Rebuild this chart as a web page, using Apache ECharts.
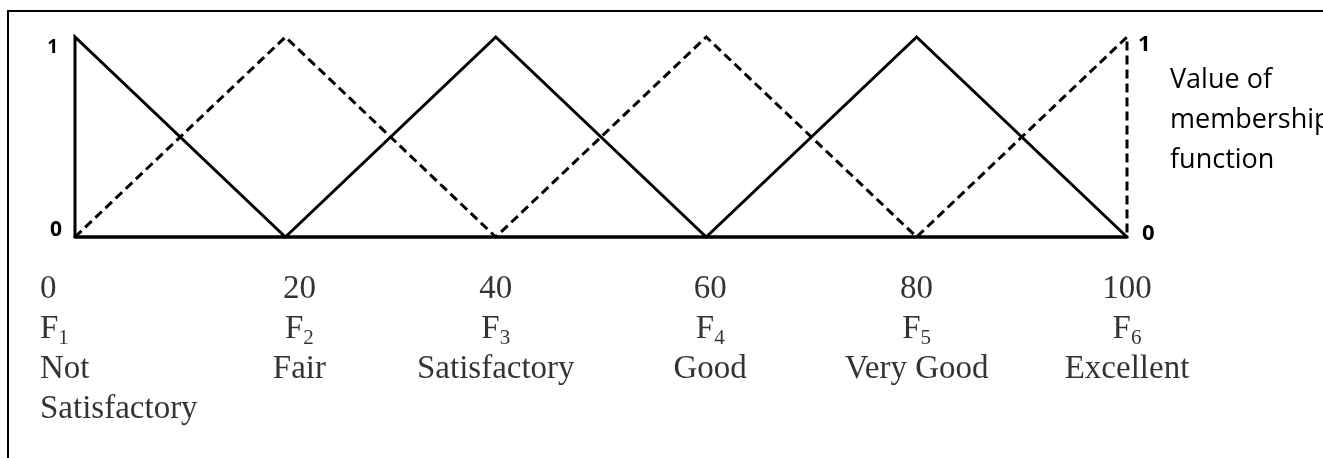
<html>
<head>
    <meta http-equiv="Content-Type" content="text/html; charset=utf-8" />
    <title>Membership functions</title>
    <style type="text/css">
        * {
            margin: 0;
            padding: 0
        }

        html,
        body {
            width: 100%;
            height: 100%;
            background: #fff;
            overflow: hidden;
        }

        #chart {
            position: absolute;
            left: 0;
            top: 0;
            width: 1323px;
            height: 458px;
        }

        /* box line round the figure, open on the right and bottom */
        .frame {
            position: absolute;
            left: 7px;
            top: 10px;
            right: 0;
            bottom: 0;
            border-top: 2px solid #000;
            border-left: 2px solid #000;
            pointer-events: none;
        }
    </style>
</head>

<body>
    <div id="chart"></div>
    <div class="frame"></div>
    <script src="https://cdn.jsdelivr.net/npm/echarts@6/dist/echarts.min.js"></script>
    <script>
        // scale ticks and the three label rows under them
        const xTicks = [0, 20, 40, 60, 80, 100];
        const setNames = ['1', '2', '3', '4', '5', '6'];
        const gradeNames = [['Not', 'Satisfactory'], ['Fair'], ['Satisfactory'], ['Good'], ['Very Good'], ['Excellent']];

        // F1, F3, F5 (solid) and F2, F4, F6 (dashed) traced as one polyline each
        const solidX = [0, 0, 20, 40, 60, 80, 100];
        const solidY = [0, 1, 0, 1, 0, 1, 0];
        const dashedX = [0, 20, 40, 60, 80, 100, 100];
        const dashedY = [0, 1, 0, 1, 0, 1, 0];

        const axisTitle = 'Value of\nmembership\nfunction';

        const serif = "'Liberation Serif', 'Times New Roman', serif";
        const sans = "'Open Sans', 'Liberation Sans', sans-serif";

        // small nudges so the labels sit where the original has them
        const labelShift = [-35, 14, 0, 4, 0, 0];

        const toPairs = (xs, ys) => xs.map((x, i) => [x, ys[i]]);

        const labelText = (i) => {
            const rows = [
                '{n|' + xTicks[i] + '}',
                '{f|F}{s|' + setNames[i] + '}'
            ];
            gradeNames[i].forEach(t => rows.push('{t|' + t + '}'));
            return rows.join('\n');
        };

        const tickLabels = xTicks.map((x, i) => ({
            value: [x, 0],
            label: i === 0
                ? { align: 'left', offset: [labelShift[i], 0] }
                : { offset: [labelShift[i], 0] }
        }));

        const myChart = echarts.init(document.querySelector('#chart'), null, { renderer: 'canvas' });
        const option = {
            animation: false,
            backgroundColor: 'transparent',
            title: {
                text: axisTitle,
                left: 1170,
                top: 60,
                padding: 0,
                textStyle: {
                    fontFamily: sans,
                    fontWeight: 'normal',
                    fontSize: 27,
                    lineHeight: 40,
                    color: '#000'
                }
            },
            grid: { left: 75, right: 196, top: 37, bottom: 221, containLabel: false },
            xAxis: {
                type: 'value',
                min: 0,
                max: 100,
                interval: 20,
                axisLine: { show: true, lineStyle: { color: '#000', width: 3.5 } },
                axisTick: { show: false },
                axisLabel: { show: false },
                splitLine: { show: false }
            },
            yAxis: [{
                type: 'value',
                min: 0,
                max: 1,
                interval: 1,
                axisLine: { show: false },
                axisTick: { show: false },
                splitLine: { show: false },
                axisLabel: {
                    margin: 13,
                    formatter: v => v === 1 ? '{one|1}' : '{zero|0}',
                    rich: {
                        one: { fontFamily: sans, fontWeight: 'bold', fontSize: 19, color: '#000', padding: [22, 4, 0, 0] },
                        zero: { fontFamily: sans, fontWeight: 'bold', fontSize: 21, color: '#000', padding: [0, 0, 13, 0] }
                    }
                }
            }, {
                type: 'value',
                position: 'right',
                min: 0,
                max: 1,
                interval: 1,
                axisLine: { show: false },
                axisTick: { show: false },
                splitLine: { show: false },
                axisLabel: {
                    margin: 11,
                    formatter: v => v === 1 ? '{one|1}' : '{zero|0}',
                    rich: {
                        one: { fontFamily: sans, fontWeight: 'bold', fontSize: 22, color: '#000', padding: [16, 0, 0, 0] },
                        zero: { fontFamily: sans, fontWeight: 'bold', fontSize: 22, color: '#000', padding: [0, 0, 7, 4] }
                    }
                }
            }],
            series: [{
                name: 'F1 F3 F5',
                type: 'line',
                data: toPairs(solidX, solidY),
                showSymbol: false,
                clip: false,
                lineStyle: { color: '#000', width: 3, join: 'miter' },
                z: 3
            }, {
                name: 'F2 F4 F6',
                type: 'line',
                data: toPairs(dashedX, dashedY),
                showSymbol: false,
                clip: false,
                lineStyle: { color: '#000', width: 3, type: [9, 5], join: 'miter' },
                z: 3
            }, {
                name: 'labels',
                type: 'scatter',
                data: tickLabels,
                symbolSize: 1,
                silent: true,
                itemStyle: { color: 'rgba(0,0,0,0)' },
                label: {
                    show: true,
                    position: 'bottom',
                    distance: 32,
                    color: '#000',
                    formatter: p => labelText(p.dataIndex),
                    rich: {
                        n: { fontFamily: serif, fontSize: 33, lineHeight: 40, color: '#000' },
                        f: { fontFamily: serif, fontSize: 33, lineHeight: 40, color: '#000' },
                        s: { fontFamily: serif, fontSize: 21, lineHeight: 22, padding: [18, 0, 0, 0], color: '#000' },
                        t: { fontFamily: serif, fontSize: 33, lineHeight: 40, color: '#000' }
                    }
                }
            }]
        };
        myChart.setOption(option);
    </script>
</body>

</html>
